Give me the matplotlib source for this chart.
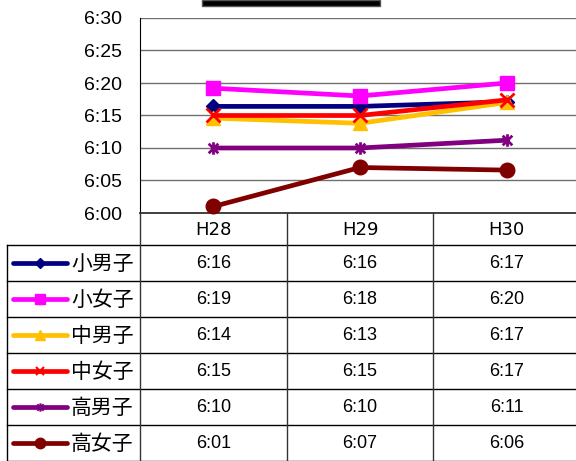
import matplotlib
matplotlib.use('Agg')
import matplotlib.pyplot as plt
import matplotlib.patches as patches
from matplotlib.path import Path
from matplotlib.ticker import FuncFormatter, MultipleLocator
import numpy as np

plt.rcParams['font.family'] = ['Liberation Sans', 'Noto Sans CJK JP']

# data: minutes after 6:00
years = ['H28', 'H29', 'H30']
names = ['小男子', '小女子', '中男子', '中女子', '高男子', '高女子']
sho_boy = [16.4, 16.4, 17.1]
sho_girl = [19.2, 18.0, 20.0]
chu_boy = [14.6, 13.8, 17.0]
chu_girl = [15.0, 15.0, 17.4]
ko_boy = [10.0, 10.0, 11.2]
ko_girl = [1.0, 7.0, 6.6]
series = [sho_boy, sho_girl, chu_boy, chu_girl, ko_boy, ko_girl]

# excel style star: x with a vertical bar
star = Path([(-1, -1), (1, 1), (-1, 1), (1, -1), (0, -1.3), (0, 1.3)],
            [Path.MOVETO, Path.LINETO, Path.MOVETO, Path.LINETO, Path.MOVETO, Path.LINETO])

# styles
colors = ['#000080', '#FF00FF', '#FFC000', '#FF0000', '#800080', '#800000']
markers = ['D', 's', '^', 'x', star, 'o']
msizes = [7.5, 10.5, 10, 9.5, 9, 10.5]
msmall = [5, 7.5, 7, 6, 6, 7.5]
thin = ('x', star)

W, H = 576, 461
fig = plt.figure(figsize=(W / 100, H / 100), dpi=100)

# chart area (pixel layout)
left, right, top, bottom = 140, 580, 18, 213
ax = fig.add_axes([left / W, 1 - bottom / H, (right - left) / W, (bottom - top) / H])
x = np.arange(len(years))
for vals, c, m, ms in zip(series, colors, markers, msizes):
    ax.plot(x, vals, color=c, lw=3.4, marker=m, markersize=ms,
            markeredgewidth=2 if any(m is t for t in thin) else 1,
            markeredgecolor=c, markerfacecolor=c, solid_joinstyle='round',
            clip_on=False, zorder=3)

ax.set_xlim(-0.5, len(years) - 0.5)
ax.set_ylim(0, 30)
ax.yaxis.set_major_locator(MultipleLocator(5))
ax.yaxis.set_major_formatter(FuncFormatter(lambda v, p: '6:%02d' % int(v)))
ax.grid(axis='y', color='#707070', lw=1)
ax.set_axisbelow(True)
ax.set_xticks([])
ax.tick_params(axis='y', length=0, pad=13, labelsize=14)
for s in ['top', 'right']:
    ax.spines[s].set_visible(False)
ax.spines['left'].set_color('black')
ax.spines['bottom'].set_color('#333333')
ax.spines['bottom'].set_linewidth(1.3)

# data table below
tab = fig.add_axes([0, 0, 1, 1 - bottom / H])
tab.set_xlim(0, W)
tab.set_ylim(H, bottom)
tab.axis('off')
col_w = (right - left) / len(years)
head_b = 245
row_h = (H - head_b) / len(names)

# header
for i, y in enumerate(years):
    tab.text(left + (i + 0.5) * col_w, (bottom + head_b) / 2 + 1, y,
             ha='center', va='center', fontsize=13, family='DejaVu Sans')
# grid lines
lc = 'black'
tab.plot([7, W], [head_b, head_b], color=lc, lw=1)
for r in range(1, len(names) + 1):
    yy = head_b + r * row_h
    tab.plot([7, W], [yy, yy], color=lc, lw=1)
tab.plot([7, 7], [head_b, H], color=lc, lw=1)
for i in range(len(years)):
    xx = left + i * col_w
    tab.plot([xx, xx], [bottom, H], color='#333333', lw=1)

# rows
for r, (nm, vals, c, m, ms) in enumerate(zip(names, series, colors, markers, msmall)):
    yc = head_b + (r + 0.5) * row_h
    tab.plot([13, 67], [yc, yc], color=c, lw=3.4, solid_capstyle='round')
    tab.plot([40], [yc], color=c, marker=m, markersize=ms,
             markeredgewidth=1.5 if any(m is t for t in thin) else 1)
    tab.text(71, yc + 1, nm, ha='left', va='center', fontsize=15)
    for i, v in enumerate(vals):
        tab.text(left + (i + 0.5) * col_w, yc + 1, '6:%02d' % int(np.floor(v)),
                 ha='center', va='center', fontsize=13)

# piece of the title box cut at the top edge
fig.patches.append(patches.Rectangle((202 / W, 1 - 6 / H), 178 / W, 6 / H,
                                     transform=fig.transFigure, facecolor='black',
                                     edgecolor='#555555', lw=1))

fig.savefig('out.png', dpi=100)
